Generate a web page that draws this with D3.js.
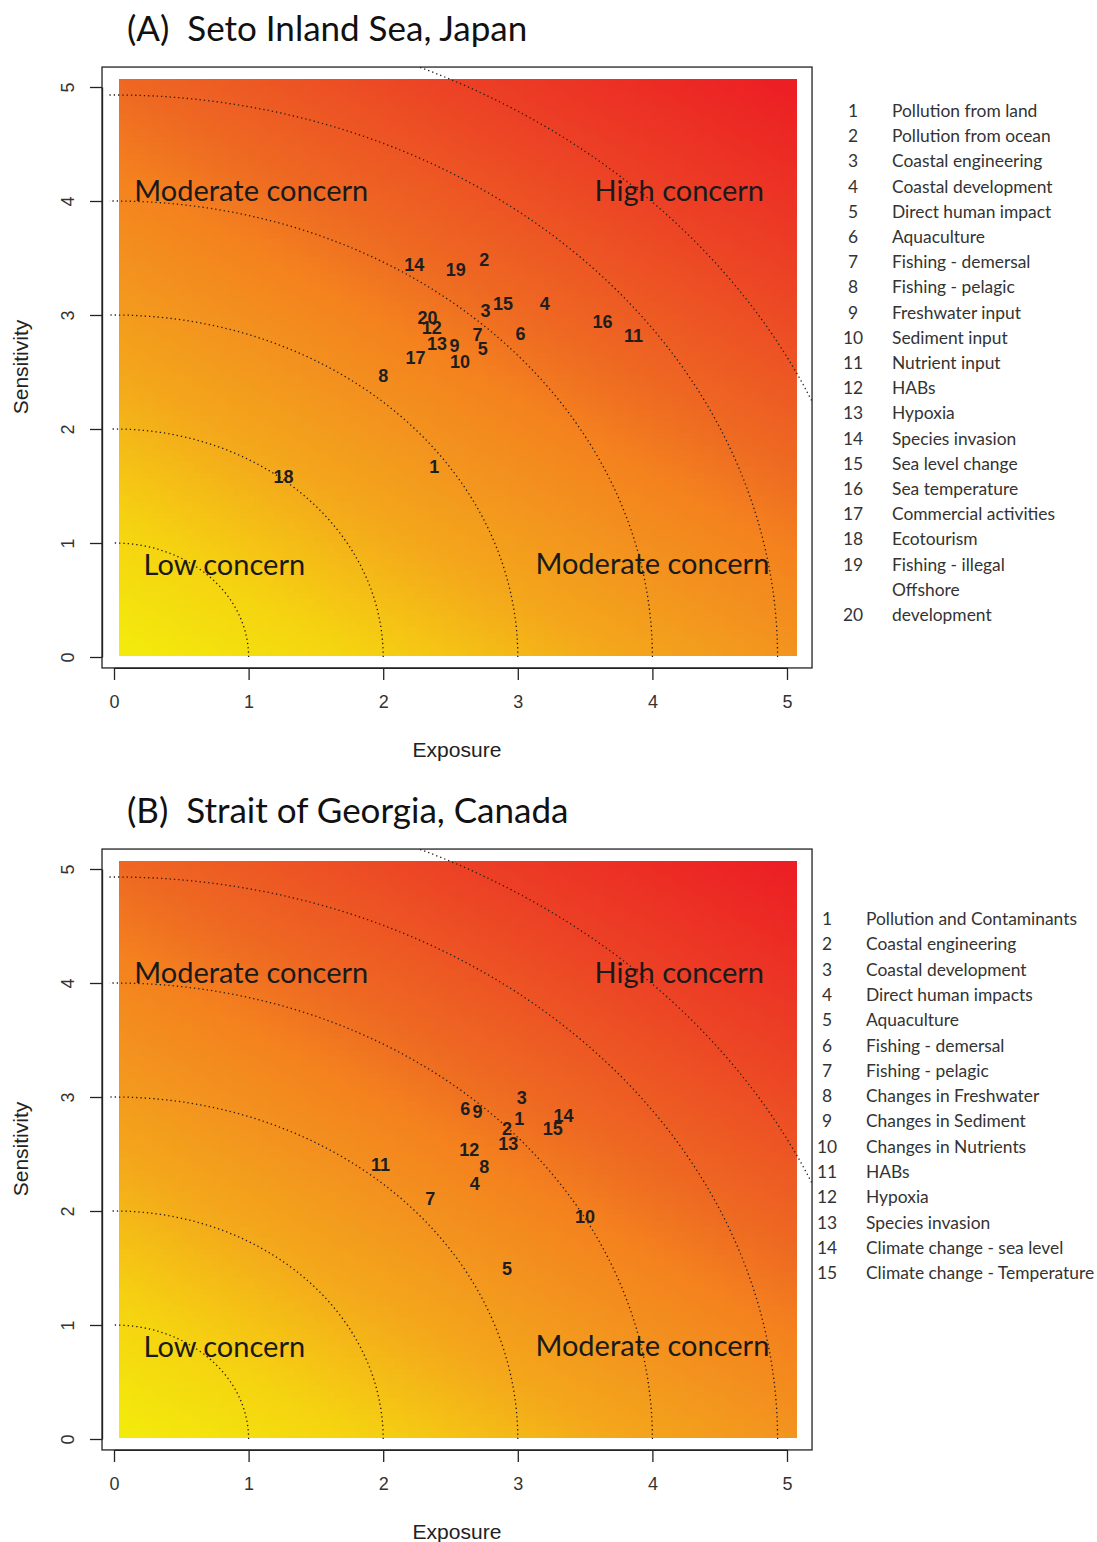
<!DOCTYPE html>
<html><head><meta charset="utf-8">
<script src="https://cdn.jsdelivr.net/npm/d3@7"></script>
<style>body{margin:0;background:#fff}</style>
</head><body>
<svg id="chart" width="1097" height="1542"></svg>
<script>
// ---- data ----
const tickValues = [0, 1, 2, 3, 4, 5];
const contourRadii = [1, 2, 3, 4, 4.93, 5.65];
const concernLabels = ["Moderate concern", "High concern", "Low concern", "Moderate concern"];

const setoTitle = "(A)  Seto Inland Sea, Japan";
const setoNames = ["Pollution from land", "Pollution from ocean", "Coastal engineering", "Coastal development",
  "Direct human impact", "Aquaculture", "Fishing - demersal", "Fishing - pelagic", "Freshwater input",
  "Sediment input", "Nutrient input", "HABs", "Hypoxia", "Species invasion", "Sea level change",
  "Sea temperature", "Commercial activities", "Ecotourism", "Fishing - illegal", "Offshore development"];
const setoExposure    = [2.38, 2.75, 2.76, 3.20, 2.74, 3.02, 2.70, 2.00, 2.53, 2.57, 3.86, 2.36, 2.40, 2.23, 2.89, 3.63, 2.24, 1.26, 2.54, 2.33];
const setoSensitivity = [1.67, 3.49, 3.04, 3.10, 2.71, 2.84, 2.83, 2.47, 2.73, 2.59, 2.82, 2.89, 2.75, 3.44, 3.10, 2.94, 2.63, 1.58, 3.40, 2.98];

const georgiaTitle = "(B)  Strait of Georgia, Canada";
const georgiaNames = ["Pollution and Contaminants", "Coastal engineering", "Coastal development",
  "Direct human impacts", "Aquaculture", "Fishing - demersal", "Fishing - pelagic", "Changes in Freshwater",
  "Changes in Sediment", "Changes in Nutrients", "HABs", "Hypoxia", "Species invasion",
  "Climate change - sea level", "Climate change - Temperature"];
const georgiaExposure    = [3.01, 2.92, 3.03, 2.68, 2.92, 2.61, 2.35, 2.75, 2.70, 3.50, 1.98, 2.64, 2.93, 3.34, 3.26];
const georgiaSensitivity = [2.81, 2.72, 3.00, 2.24, 1.50, 2.90, 2.11, 2.39, 2.87, 1.95, 2.41, 2.54, 2.59, 2.84, 2.72];

// ---- layout ----
const svg = d3.select("#chart");
const calibri = "Lato, 'Open Sans', sans-serif";
const arial = "'Liberation Sans', Arial, sans-serif";
const boxDomX = [-0.089, 5.186], boxDomY = [-0.096, 5.175];
const heatDomX = [0.037, 5.067], heatDomY = [0.018, 5.07];
const concernPos = [[1.02, 4.09], [4.20, 4.09], [0.82, 0.81], [4.00, 0.82]];

// yellow -> orange -> red, sensitivity weighted a little more than exposure
const heat = d3.scaleLinear()
  .domain([0, 0.15, 0.3, 0.4, 0.51, 0.6, 0.8, 1])
  .range(["#f3ed0b", "#f5d211", "#f4a71b", "#f3951e", "#f4821e", "#ee6a22", "#ec4225", "#ec1f24"])
  .clamp(true);
const heatT = (ex, se) => 0.4 * ex / 5 + 0.6 * se / 5;

function drawPanel(off, title, names, ex, se, legend) {
  const x = d3.scaleLinear().domain([0, 5]).range([114, 787]);
  const y = d3.scaleLinear().domain([0, 5]).range([657 + off, 87 + off]);
  const g = svg.append("g");
  const clipId = "clip" + off;
  g.append("clipPath").attr("id", clipId).append("rect")
    .attr("x", x(boxDomX[0])).attr("y", y(boxDomY[1]))
    .attr("width", x(boxDomX[1]) - x(boxDomX[0])).attr("height", y(boxDomY[0]) - y(boxDomY[1]));

  // heat map cells
  const step = 0.05;
  const nx = Math.ceil((heatDomX[1] - heatDomX[0]) / step);
  const ny = Math.ceil((heatDomY[1] - heatDomY[0]) / step);
  const cells = [];
  for (let i = 0; i < nx; i++) for (let j = 0; j < ny; j++) {
    const x0 = heatDomX[0] + i * step, x1 = Math.min(heatDomX[1], x0 + step);
    const y0 = heatDomY[0] + j * step, y1 = Math.min(heatDomY[1], y0 + step);
    cells.push({x0, x1, y0, y1});
  }
  g.append("g").attr("shape-rendering", "crispEdges").selectAll("rect").data(cells).join("rect")
    .attr("x", d => x(d.x0)).attr("y", d => y(d.y1))
    .attr("width", d => x(d.x1) - x(d.x0) + 0.6).attr("height", d => y(d.y0) - y(d.y1) + 0.6)
    .attr("fill", d => heat(heatT((d.x0 + d.x1) / 2, (d.y0 + d.y1) / 2)));

  // dotted iso-concern arcs
  const angles = d3.range(0, 91, 0.5).map(a => a * Math.PI / 180);
  const arc = d3.line().x(d => x(d[0])).y(d => y(d[1]));
  g.append("g").attr("clip-path", `url(#${clipId})`).selectAll("path").data(contourRadii).join("path")
    .attr("d", r => arc(angles.map(a => [r * Math.cos(a), r * Math.sin(a)])))
    .attr("fill", "none").attr("stroke", "#2a1a10").attr("stroke-width", 1.3)
    .attr("stroke-dasharray", "1.3,3");

  // plot box
  g.append("rect").attr("x", x(boxDomX[0])).attr("y", y(boxDomY[1]))
    .attr("width", x(boxDomX[1]) - x(boxDomX[0])).attr("height", y(boxDomY[0]) - y(boxDomY[1]))
    .attr("fill", "none").attr("stroke", "#222").attr("stroke-width", 1.3);

  // axes
  const fmt = d3.format("d");
  const xa = g.append("g").attr("transform", `translate(0,${y(boxDomY[0])})`)
    .call(d3.axisBottom(x).tickValues(tickValues).tickFormat(fmt).tickSize(12).tickSizeOuter(0).tickPadding(15));
  const ya = g.append("g").attr("transform", `translate(${x(boxDomX[0])},0)`)
    .call(d3.axisLeft(y).tickValues(tickValues).tickFormat(fmt).tickSize(12).tickSizeOuter(0));
  [xa, ya].forEach(a => {
    a.select(".domain").attr("stroke", "#222").attr("stroke-width", 1.3);
    a.selectAll(".tick line").attr("stroke", "#222").attr("stroke-width", 1.3);
    a.selectAll("text").attr("font-family", arial).attr("font-size", 18).attr("fill", "#333");
  });
  ya.selectAll("text").attr("x", 0).attr("y", -28).attr("dy", 0)
    .attr("text-anchor", "middle").attr("transform", "rotate(-90)");

  g.append("text").attr("x", x(2.548)).attr("y", 757 + off).attr("text-anchor", "middle")
    .attr("font-family", arial).attr("font-size", 21).attr("fill", "#222").text("Exposure");
  g.append("text").attr("transform", `translate(28,${367 + off}) rotate(-90)`).attr("text-anchor", "middle")
    .attr("font-family", arial).attr("font-size", 21).attr("fill", "#222").text("Sensitivity");

  // title
  g.append("text").attr("x", 127).attr("y", 41 + off).attr("font-family", calibri)
    .attr("font-size", 35).attr("fill", "#111").attr("xml:space", "preserve").text(title);

  // concern zones
  g.selectAll(".zone").data(concernLabels).join("text").attr("class", "zone")
    .attr("x", (d, i) => x(concernPos[i][0])).attr("y", (d, i) => y(concernPos[i][1]) + 10)
    .attr("text-anchor", "middle").attr("font-family", calibri).attr("font-size", 29)
    .attr("fill", "#1a1a1a").text(d => d);

  // hazard numbers
  g.selectAll(".pt").data(names).join("text").attr("class", "pt")
    .attr("x", (d, i) => x(ex[i])).attr("y", (d, i) => y(se[i]) + 6.5)
    .attr("text-anchor", "middle").attr("font-family", arial).attr("font-weight", "bold")
    .attr("font-size", 18).attr("fill", "#1e1e1e").text((d, i) => i + 1);

  // legend
  const lg = g.append("g");
  let row = 0;
  names.forEach((name, i) => {
    const words = name === "Offshore development" ? ["Offshore", "development"] : [name];
    words.forEach((w, k) => {
      lg.append("text").attr("x", legend.tx).attr("y", legend.y0 + (row + k) * legend.dy + 5)
        .attr("font-family", calibri).attr("font-size", 17.4).attr("fill", "#333").text(w);
    });
    row += words.length - 1;
    lg.append("text").attr("x", legend.nx).attr("y", legend.y0 + row * legend.dy + 5)
      .attr("text-anchor", "middle").attr("font-family", calibri).attr("font-size", 17.4)
      .attr("fill", "#333").text(i + 1);
    row += 1;
  });
}

drawPanel(0, setoTitle, setoNames, setoExposure, setoSensitivity, {nx: 853, tx: 892, y0: 112, dy: 25.2});
drawPanel(782, georgiaTitle, georgiaNames, georgiaExposure, georgiaSensitivity, {nx: 827, tx: 866, y0: 920, dy: 25.3});
</script>
</body></html>
